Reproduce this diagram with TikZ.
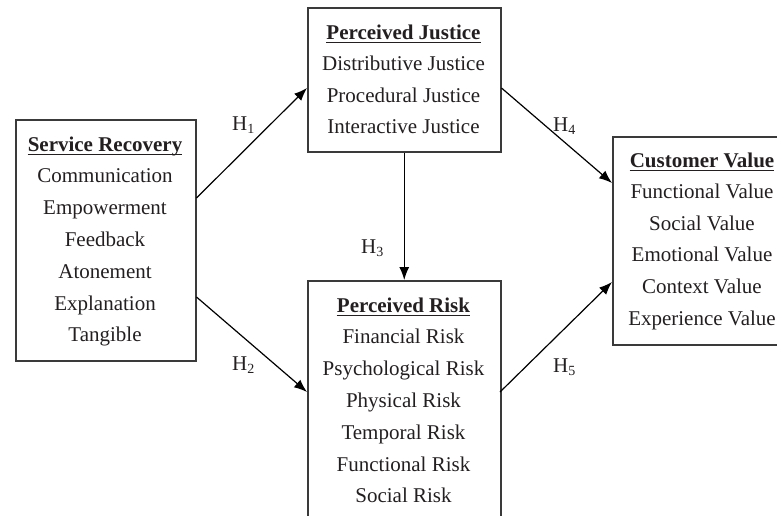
\documentclass[tikz,border=0pt]{standalone}
\usepackage{fontspec}
\setmainfont{Liberation Serif}
\usetikzlibrary{arrows.meta,calc}

\definecolor{ink}{HTML}{231F20}
\definecolor{frame}{HTML}{3A3A3A}

% hypothesis label: H with a lowered index
\newcommand{\hyplabel}[1]{H\raisebox{-3.5pt}{\fontsize{14}{14}\selectfont #1}}

\tikzset{
  box/.style={draw=frame, line width=1.5pt, rectangle, inner sep=0pt, anchor=north west},
  txt/.style={inner sep=0pt, anchor=base, text=ink, font=\fontsize{21}{25}\selectfont},
  head/.style={txt, font=\fontsize{21}{25}\selectfont\bfseries},
  uline/.style={draw=ink, line width=1.1pt},
  link/.style={draw=black, line width=1.2pt, -{Latex[length=13pt,width=10pt]}},
  hyp/.style={inner sep=0pt, anchor=base west, text=ink, font=\fontsize{21}{25}\selectfont},
}

\begin{document}
\begin{tikzpicture}[x=1pt,y=-1pt]
\useasboundingbox (0,0) rectangle (777,515);
\clip (0,0) rectangle (777,515);

% ---- boxes ----
\node[box, minimum width=180pt, minimum height=241pt] (sr) at (15,119) {};
\node[box, minimum width=193pt, minimum height=144pt] (pj) at (307,7) {};
\node[box, minimum width=193pt, minimum height=250pt] (pr) at (307,280) {};
\node[box, minimum width=180pt, minimum height=208pt] (cv) at (612,136) {};

% ---- Service Recovery ----
\node[head] (srh) at (105,151) {Service Recovery};
\draw[uline] ([yshift=-3.5pt]srh.base west) -- ([yshift=-3.5pt]srh.base east);
\foreach \t [count=\i] in {Communication,Empowerment,Feedback,Atonement,Explanation,Tangible}
  \node[txt] (sr-\i) at (105,151+31.8*\i) {\t};

% ---- Perceived Justice ----
\node[head] (pjh) at (403.5,39) {Perceived Justice};
\draw[uline] ([yshift=-3.5pt]pjh.base west) -- ([yshift=-3.5pt]pjh.base east);
\foreach \t [count=\i] in {Distributive Justice,Procedural Justice,Interactive Justice}
  \node[txt] (pj-\i) at (403.5,39+31.5*\i) {\t};

% ---- Perceived Risk ----
\node[head] (prh) at (403.5,312) {Perceived Risk};
\draw[uline] ([yshift=-3.5pt]prh.base west) -- ([yshift=-3.5pt]prh.base east);
\foreach \t [count=\i] in {Financial Risk,Psychological Risk,Physical Risk,Temporal Risk,Functional Risk,Social Risk}
  \node[txt] (pr-\i) at (403.5,312+31.8*\i) {\t};

% ---- Customer Value ----
\node[head] (cvh) at (702,167) {Customer Value};
\draw[uline] ([yshift=-3.5pt]cvh.base west) -- ([yshift=-3.5pt]cvh.base east);
\foreach \t [count=\i] in {Functional Value,Social Value,Emotional Value,Context Value,Experience Value}
  \node[txt] (cv-\i) at (702,167+31.6*\i) {\t};

% ---- hypotheses ----
\draw[link] ($(sr.north east)+(0,79)$) -- ($(pj.north west)+(0,81)$);
\draw[link] ($(sr.north east)+(0,178)$) -- ($(pr.north west)+(0,112)$);
\draw[link] (pj.south) -- (pr.north);
\draw[link] ($(pj.north east)+(0,81)$) -- ($(cv.north west)+(0,47)$);
\draw[link] ($(pr.north west)+(193,112)$) -- ($(cv.north west)+(0,146)$);

\node[hyp] (h1) at (232,130) {\hyplabel{1}};
\node[hyp] (h2) at (232,370) {\hyplabel{2}};
\node[hyp] (h3) at (361,253) {\hyplabel{3}};
\node[hyp] (h4) at (553,131) {\hyplabel{4}};
\node[hyp] (h5) at (553,372) {\hyplabel{5}};
\end{tikzpicture}
\end{document}
